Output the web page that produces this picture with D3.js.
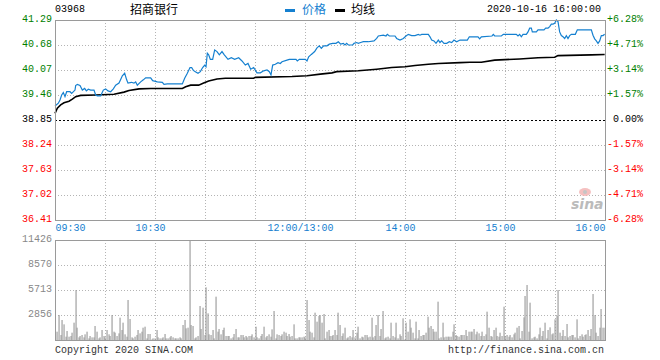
<!DOCTYPE html>
<html><head><meta charset="utf-8">
<script src="https://cdnjs.cloudflare.com/ajax/libs/d3/7.8.5/d3.min.js"></script>
<style>
body{margin:0;background:#fff;}
svg{display:block;}
text{font-family:"Liberation Mono","DejaVu Sans Mono",monospace;font-size:10px;}
</style></head>
<body><svg id="c" width="660" height="360"></svg>
<script>
// ---- data ----
const stockCode = "03968";
const stockName = "招商银行";
const dateLabel = "2020-10-16 16:00:00";
const prevClose = 38.85;
const priceTicks = [41.29, 40.68, 40.07, 39.46, 38.85, 38.24, 37.63, 37.02, 36.41];
const pctTicks = ["+6.28%", "+4.71%", "+3.14%", "+1.57%", "0.00%", "-1.57%", "-3.14%", "-4.71%", "-6.28%"];
const volTicks = [11426, 8570, 5713, 2856];
const timeMinutes = [0, 60, 150, 210, 270, 330];
const timeLabels = ["09:30", "10:30", "12:00/13:00", "14:00", "15:00", "16:00"];
const gridMinutes = [30, 60, 90, 120, 150, 180, 210, 240, 270, 300];

const priceMinutes = [0,2,3,4,5,6,7,9,10,12,12.4,13.4,15,16.4,17.8,18.8,20,21.4,23.4,24.4,25.4,27.4,29,30.4,31.8,33.4,35,36.4,38.4,39.4,40.4,41.8,43,43.8,45.8,47.4,48.4,49.4,51.4,53,54.4,57.4,58.6,61.4,64.4,65.4,67.4,76.4,77.8,79.4,81,82,83,84.2,85.8,87.2,88.6,89.8,90.6,91.4,92.2,93.2,94.6,95.8,97.2,98.6,100.2,101.6,103.8,105.8,107.8,110.2,112.2,114.2,115.8,117.4,119.2,121.2,123.2,125.2,127.2,128.6,129.6,130.6,132.2,133.8,135.2,136.2,139.2,140.6,144.6,145.4,146.6,150.2,151.2,152.2,153.8,155.8,157.2,158.6,159.8,161.2,163.2,164.6,166.6,168.6,170,171.4,173,174,175,176,178.6,179.4,181,182,183.4,185,188,191.4,193,194,197,198.6,199.4,200.6,204,205,207,209,210.6,212,214,216,218,219,220,224,225,226,227.4,228.6,230,231,232,233.4,235,236.6,238,239.4,241,243,247.4,248.6,253.8,254.8,255.8,262.2,263,263.8,267.8,269,276.8,277.8,278.8,279.8,280.8,282.8,283.8,284.8,285.8,286.4,288.8,289.8,293.4,294.4,295.8,296.8,297.8,298.8,299.8,300.8,301.8,302.8,303.8,304.8,305.8,306.8,307.8,308.8,309.8,312.2,313.4,321.8,322.8,323.8,324.8,325.8,326.8,327.8,328.8,329.8];
const priceValues = [39.19,39.26,39.34,39.46,39.52,39.42,39.54,39.54,39.50,39.58,39.69,39.72,39.69,39.58,39.62,39.56,39.60,39.58,39.58,39.46,39.44,39.44,39.58,39.61,39.56,39.54,39.61,39.70,39.75,39.84,39.93,39.99,39.83,39.75,39.77,39.75,39.78,39.70,39.78,39.83,39.88,39.88,39.81,39.78,39.77,39.72,39.73,39.73,39.87,39.99,40.13,40.13,40.06,40.03,39.99,40.03,40.13,40.19,40.15,40.48,40.44,40.33,40.33,40.56,40.52,40.44,40.52,40.44,40.33,40.37,40.33,40.37,40.29,40.19,40.23,40.09,40.13,40.00,40.00,40.05,40.07,40.03,39.95,40.19,40.21,40.25,40.23,40.27,40.31,40.33,40.33,40.29,40.33,40.33,40.29,40.39,40.45,40.52,40.61,40.66,40.60,40.66,40.66,40.70,40.72,40.72,40.76,40.70,40.72,40.68,40.72,40.68,40.68,40.72,40.74,40.72,40.74,40.76,40.76,40.78,40.84,40.90,40.92,40.90,40.94,40.90,40.90,40.84,40.80,40.84,40.90,40.94,40.91,40.91,40.94,40.92,40.94,40.94,40.88,40.80,40.78,40.72,40.80,40.74,40.78,40.72,40.72,40.76,40.74,40.80,40.76,40.80,40.80,40.88,40.88,40.83,40.88,40.90,40.94,40.90,40.90,40.94,40.94,40.90,40.94,40.88,40.94,40.94,41.00,41.09,41.09,41.00,41.00,41.05,41.05,41.09,41.09,41.13,41.19,41.19,41.21,41.29,41.25,41.00,40.91,40.88,40.84,40.91,40.84,40.91,40.94,40.94,41.05,41.05,40.92,40.83,40.78,40.72,40.78,40.91,40.91,40.94];

const avgMinutes = [0,1.4,3.4,5.4,8.4,10.4,12.4,15.4,24.4,35.4,41.4,44.4,50.4,57.4,76.4,78.4,81.4,86.2,89.2,92.2,97.2,102.2,119.2,120.2,142.2,151.2,159.2,166.2,169,182,193,202,210,216,224,230,243,249,255.8,263.8,278.8,289.8,299.8,301.8,321.8,329.8];
const avgValues = [39.01,39.14,39.22,39.27,39.31,39.36,39.42,39.45,39.46,39.48,39.53,39.57,39.61,39.62,39.62,39.66,39.70,39.70,39.75,39.80,39.85,39.87,39.87,39.89,39.91,39.93,39.97,40.00,40.03,40.05,40.09,40.13,40.15,40.18,40.21,40.23,40.25,40.26,40.26,40.31,40.34,40.37,40.38,40.42,40.44,40.45];

const volumes = [952,2857,571,2285,1790,380,1028,380,457,838,1981,5713,1409,305,457,571,305,648,952,190,457,305,305,1600,952,190,305,1143,457,305,1143,648,457,2857,952,838,457,762,2552,1143,1981,648,380,4570,2400,305,190,380,571,1143,762,952,1409,1523,190,686,686,76,190,190,1143,305,190,190,305,686,190,190,305,457,305,190,190,190,305,190,1714,2285,1333,1409,11426,1714,1600,190,305,457,3885,1257,3694,571,6018,3047,648,571,1143,190,4951,952,1257,648,1143,1409,457,457,457,190,305,686,1257,305,305,571,571,305,457,305,457,457,648,305,1523,305,190,457,686,1523,305,457,648,380,1219,3314,190,648,571,457,648,952,838,457,686,380,457,1790,190,190,305,305,305,380,305,4570,2285,952,838,305,3123,2095,2742,2857,1981,2971,190,952,1143,
457,457,571,1143,571,3123,1714,457,762,1409,190,305,457,305,1143,305,838,1523,190,380,305,571,571,305,380,2552,305,457,1714,2857,457,1257,3314,190,305,380,190,1981,457,305,1981,190,648,457,2476,76,1981,952,2362,1409,838,190,2095,190,1143,457,571,571,838,2666,1409,1600,1257,952,952,4380,190,305,1981,305,380,380,380,380,952,1790,571,457,380,571,571,571,1143,457,952,952,952,1257,648,952,762,457,952,457,648,3237,1409,457,380,1143,1409,457,380,838,457,3809,457,571,380,571,305,648,838,1409,1600,190,1028,2590,5028,6284,952,4266,190,305,380,190,648,1409,457,1028,1981,190,1143,1447,648,762,2362,2742,5713,838,457,1143,457,1828,305,457,571,571,305,2362,190,457,648,380,571,648,1143,457,1257,5256,2857,838,457,1409,3542,1409,1409];

// ---- drawing ----
const svg = d3.select("#c");
const L = 55, R = 605, PT = 20, PB = 220, VT = 240, VB = 340;
const gridColor = "#b4b4b4", borderColor = "#9a9a9a";
const blue = "#1580d0";

const x = d3.scaleLinear().domain([0, 330]).range([L, R]);
const yP = d3.scaleLinear().domain([36.41, 41.29]).range([PB, PT]);
const yV = d3.scaleLinear().domain([0, 11426]).range([VB, VT]);
const volIdx = d3.scaleLinear().domain([0, volumes.length - 1]).range([1.4, 329.8]);

const crisp = v => Math.round(v) + 0.5;

// grids price
const gP = svg.append("g");
gP.selectAll("line.v").data(gridMinutes).join("line")
  .attr("x1", d => crisp(x(d))).attr("x2", d => crisp(x(d)))
  .attr("y1", PT).attr("y2", PB)
  .attr("stroke", gridColor).attr("stroke-dasharray", "1,2");
gP.selectAll("line.h").data(priceTicks.filter(d => d !== priceTicks[0] && d !== priceTicks[priceTicks.length-1] && d !== prevClose)).join("line")
  .attr("x1", L).attr("x2", R)
  .attr("y1", d => crisp(yP(d))).attr("y2", d => crisp(yP(d)))
  .attr("stroke", gridColor).attr("stroke-dasharray", "1,2");
gP.append("line").attr("x1", L).attr("x2", R)
  .attr("y1", crisp(yP(prevClose))).attr("y2", crisp(yP(prevClose)))
  .attr("stroke", "#000").attr("stroke-dasharray", "2,2");

// grids volume
const gV = svg.append("g");
gV.selectAll("line.v").data(gridMinutes).join("line")
  .attr("x1", d => crisp(x(d))).attr("x2", d => crisp(x(d)))
  .attr("y1", VT).attr("y2", VB)
  .attr("stroke", gridColor).attr("stroke-dasharray", "1,2");
gV.selectAll("line.h").data(volTicks.slice(1)).join("line")
  .attr("x1", L).attr("x2", R)
  .attr("y1", d => crisp(yV(d))).attr("y2", d => crisp(yV(d)))
  .attr("stroke", gridColor).attr("stroke-dasharray", "1,2");

// volume bars
svg.append("g").selectAll("rect").data(volumes).join("rect")
  .attr("x", (d, i) => Math.round(x(volIdx(i))) - 0.5)
  .attr("width", 1.1)
  .attr("y", d => yV(d))
  .attr("height", d => VB - yV(d))
  .attr("fill", "#989898");

// sina watermark
const wm = svg.append("g").attr("opacity", 0.85);
wm.append("ellipse").attr("cx", 585).attr("cy", 192).attr("rx", 6).attr("ry", 4).attr("fill", "#f4b6b6");
wm.append("circle").attr("cx", 585).attr("cy", 192).attr("r", 2).attr("fill", "#bbb");
wm.append("text").attr("x", 571).attr("y", 209).text("sina")
  .style("font-family", "DejaVu Sans, sans-serif").style("font-size", "14px")
  .style("font-style", "italic").style("font-weight", "bold").attr("fill", "#b0b0b0");

// lines
const line = d3.line().x(d => x(d[0])).y(d => yP(d[1]));
svg.append("path").datum(avgMinutes.map((m, i) => [m, avgValues[i]]))
  .attr("d", line).attr("fill", "none").attr("stroke", "#000").attr("stroke-width", 1.6);
svg.append("path").datum(priceMinutes.map((m, i) => [m, priceValues[i]]))
  .attr("d", line).attr("fill", "none").attr("stroke", blue).attr("stroke-width", 1.2);

// borders
svg.append("rect").attr("x", L + 0.5).attr("y", PT + 0.5).attr("width", R - L).attr("height", PB - PT)
  .attr("fill", "none").attr("stroke", borderColor);
svg.append("rect").attr("x", L + 0.5).attr("y", VT + 0.5).attr("width", R - L).attr("height", VB - VT)
  .attr("fill", "none").attr("stroke", borderColor);

// axes
const colorFor = v => v > prevClose ? "#008000" : (v < prevClose ? "#ff0000" : "#000");
const axL = svg.append("g").attr("transform", `translate(${L},0)`)
  .call(d3.axisLeft(yP).tickValues(priceTicks).tickSize(0).tickPadding(3).tickFormat(d3.format(".2f")));
axL.select(".domain").remove();
axL.selectAll("text").attr("dy", "0.12em").attr("fill", d => colorFor(d)).style("font-size", "10px").style("font-family", null);

const pctScale = d3.scalePoint().domain(pctTicks).range([PT, PB]);
const axR = svg.append("g").attr("transform", `translate(${R + 38},0)`)
  .call(d3.axisLeft(pctScale).tickSize(0).tickPadding(0));
axR.select(".domain").remove();
axR.selectAll("text").attr("dy", "0.12em").attr("fill", (d, i) => colorFor(priceTicks[i])).style("font-size", "10px").style("font-family", null);

const axV = svg.append("g").attr("transform", `translate(${L},0)`)
  .call(d3.axisLeft(yV).tickValues(volTicks).tickSize(0).tickPadding(3).tickFormat(d3.format("d")));
axV.select(".domain").remove();
axV.selectAll("text").attr("dy", "0.12em").attr("fill", "#888").style("font-size", "10px").style("font-family", null);

const axB = svg.append("g").attr("transform", `translate(0,${PB})`)
  .call(d3.axisBottom(x).tickValues(timeMinutes).tickSize(0).tickPadding(4).tickFormat((d, i) => timeLabels[i]));
axB.select(".domain").remove();
axB.selectAll("text").attr("fill", blue).style("font-size", "10px").style("font-family", null)
  .attr("text-anchor", (d, i) => i === 0 ? "start" : (i === timeMinutes.length - 1 ? "end" : "middle"))
  .attr("dx", (d, i) => i === 0 ? 0 : (i === timeMinutes.length - 1 ? 0 : -5));

// header
svg.append("text").attr("x", 55).attr("y", 12).text(stockCode).attr("fill", "#000");
svg.append("text").attr("x", 130).attr("y", 14).text(stockName).attr("fill", "#000")
  .style("font-family", "'Noto Sans CJK SC', sans-serif").style("font-size", "12px");
svg.append("rect").attr("x", 285).attr("y", 9).attr("width", 10).attr("height", 3).attr("fill", blue);
svg.append("text").attr("x", 302).attr("y", 14).text("价格").attr("fill", blue)
  .style("font-family", "'Noto Sans CJK SC', sans-serif").style("font-size", "12px");
svg.append("rect").attr("x", 335).attr("y", 9).attr("width", 10).attr("height", 3).attr("fill", "#000");
svg.append("text").attr("x", 351).attr("y", 14).text("均线").attr("fill", "#000")
  .style("font-family", "'Noto Sans CJK SC', sans-serif").style("font-size", "12px");
svg.append("text").attr("x", 601).attr("y", 12).attr("text-anchor", "end").text(dateLabel).attr("fill", "#000");

// footer
svg.append("text").attr("x", 55).attr("y", 353).text("Copyright 2020 SINA.COM").attr("fill", "#333");
svg.append("text").attr("x", 604).attr("y", 353).attr("text-anchor", "end").text("http://finance.sina.com.cn").attr("fill", "#333");
</script></body></html>
